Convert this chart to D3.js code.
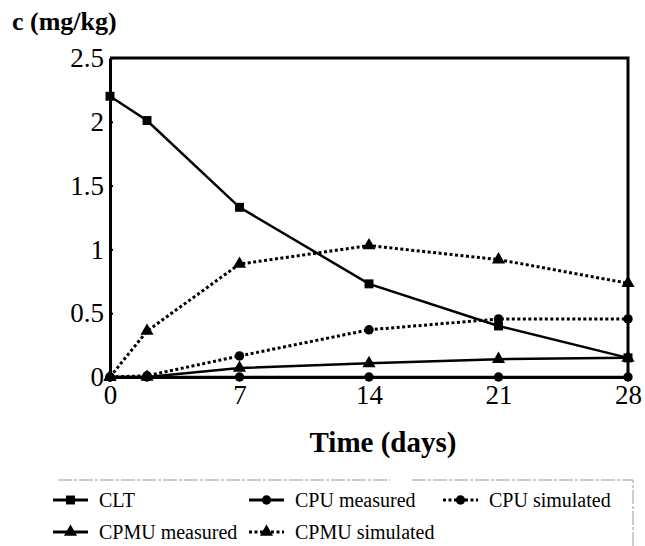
<!DOCTYPE html>
<html>
<head>
<meta charset="utf-8">
<script src="https://cdn.jsdelivr.net/npm/d3@7"></script>
<style>
  body { margin: 0; background: #fff; }
  text { font-family: "Liberation Serif"; }
</style>
</head>
<body>
<svg id="chart" width="645" height="546"></svg>
<script>
// sampling days
const days = [0, 2, 7, 14, 21, 28];

// concentrations (mg/kg)
const clt = [2.2, 2.01, 1.33, 0.73, 0.40, 0.15];
const cpuMeasured = [0, 0, 0, 0, 0, 0];
const cpuSimulated = [0, 0.01, 0.165, 0.37, 0.455, 0.455];
const cpmuMeasured = [0, 0, 0.07, 0.107, 0.14, 0.15];
const cpmuSimulated = [0, 0.36, 0.885, 1.03, 0.92, 0.735];

const xTicks = [0, 7, 14, 21, 28];
const yTicks = [0, 0.5, 1, 1.5, 2, 2.5];

const series = [
  { name: "CLT", values: clt, shape: "square", dotted: false },
  { name: "CPU measured", values: cpuMeasured, shape: "circle", dotted: false },
  { name: "CPU simulated", values: cpuSimulated, shape: "circle", dotted: true },
  { name: "CPMU measured", values: cpmuMeasured, shape: "triangle", dotted: false },
  { name: "CPMU simulated", values: cpmuSimulated, shape: "triangle", dotted: true }
];

const serif = "Liberation Serif";

const svg = d3.select("#chart");

const x = d3.scaleLinear().domain([0, 28]).range([110, 628]);
const y = d3.scaleLinear().domain([0, 2.5]).range([377, 58]);

// marker shapes
const symbolFor = {
  square: d3.symbol().type(d3.symbolSquare).size(80),
  circle: d3.symbol().type(d3.symbolCircle).size(70),
  triangle: d3.symbol().type(d3.symbolTriangle).size(75)
};

// frame: top and right borders
svg.append("path")
  .attr("d", `M${x(0)},${y(2.5)}H${x(28)}V${y(0)}`)
  .attr("fill", "none")
  .attr("stroke", "#000")
  .attr("stroke-width", 3);

// y axis
const yAxis = svg.append("g")
  .attr("transform", `translate(${x(0)},0)`)
  .call(d3.axisLeft(y).tickValues(yTicks).tickSize(4).tickSizeOuter(0)
    .tickFormat(d => d));
yAxis.attr("font-family", null).attr("font-size", null);
yAxis.select(".domain").attr("stroke-width", 3);
yAxis.selectAll(".tick line").attr("x2", 3).attr("stroke-width", 2);
yAxis.selectAll(".tick text")
  .attr("x", -6)
  .style("font-size", "27px")
  .style("font-family", serif);

// x axis
const xAxis = svg.append("g")
  .attr("transform", `translate(0,${y(0)})`)
  .call(d3.axisBottom(x).tickValues(xTicks).tickSize(4).tickSizeOuter(0));
xAxis.attr("font-family", null).attr("font-size", null);
xAxis.select(".domain").attr("stroke-width", 3);
xAxis.selectAll(".tick line").attr("y1", -3).attr("stroke-width", 2);
xAxis.selectAll(".tick text")
  .attr("y", 8)
  .style("font-size", "27px")
  .style("font-family", serif);

// titles
svg.append("text")
  .attr("x", 12).attr("y", 30)
  .style("font-family", serif)
  .style("font-size", "26px").style("font-weight", "bold")
  .text("c (mg/kg)");

svg.append("text")
  .attr("x", 383).attr("y", 452)
  .attr("text-anchor", "middle")
  .style("font-family", serif)
  .style("font-size", "29px").style("font-weight", "bold")
  .text("Time (days)");

// lines and markers
const line = d3.line()
  .x((d, i) => x(days[i]))
  .y(d => y(d));

series.forEach(s => {
  svg.append("path")
    .datum(s.values)
    .attr("d", line)
    .attr("fill", "none")
    .attr("stroke", "#000")
    .attr("stroke-width", s.dotted ? 3 : 2.5)
    .attr("stroke-dasharray", s.dotted ? "3,2.5" : null);

  svg.append("g")
    .selectAll("path")
    .data(s.values)
    .join("path")
    .attr("transform", (d, i) => `translate(${x(days[i])},${y(d)})`)
    .attr("d", symbolFor[s.shape])
    .attr("fill", "#000");
});

// legend frame (faint, as scanned)
svg.append("path")
  .attr("d", "M58,480H390M412,480H633V546")
  .attr("fill", "none")
  .attr("stroke", "#999")
  .attr("stroke-width", 1)
  .attr("stroke-dasharray", "14,2,3,2");

// legend
const legendPos = [
  [53, 500], [249, 500], [443, 500],
  [53, 532], [249, 532]
];

series.forEach((s, i) => {
  const [lx, ly] = legendPos[i];
  const g = svg.append("g").attr("transform", `translate(${lx},${ly})`);
  g.append("line")
    .attr("x1", 0).attr("x2", 35)
    .attr("stroke", "#000")
    .attr("stroke-width", 3)
    .attr("stroke-dasharray", s.dotted ? "3,2.5" : null);
  g.append("path")
    .attr("transform", "translate(17.5,0)")
    .attr("d", symbolFor[s.shape])
    .attr("fill", "#000");
  g.append("text")
    .attr("x", 46)
    .attr("dy", "0.35em")
    .style("font-family", serif)
    .style("font-size", "20px")
    .text(s.name);
});
</script>
</body>
</html>
